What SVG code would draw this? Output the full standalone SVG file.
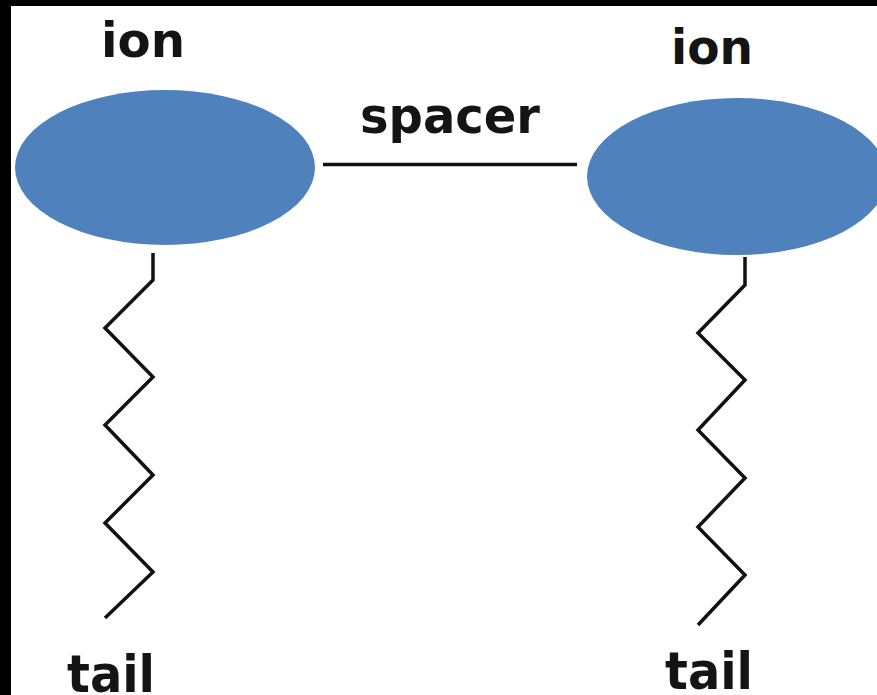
<svg xmlns="http://www.w3.org/2000/svg" width="877" height="695" viewBox="0 0 877 695">
  <style>
    .label { font-family: "DejaVu Sans", "Liberation Sans", Arial, sans-serif; font-weight: bold; fill: #141414; }
    .ion { fill: #4f81bd; }
    .bond { fill: none; stroke: #111; stroke-width: 3.5; stroke-linejoin: miter; stroke-linecap: butt; }
  </style>
  <!-- dark frame on the left and top edges -->
  <rect x="0" y="0" width="877" height="695" fill="#000"/>
  <rect x="11" y="6" width="866" height="689" fill="#fff"/>

  <g id="ion-left">
    <ellipse class="ion" cx="165" cy="167.5" rx="150" ry="77.5"/>
    <text class="label" x="101" y="57" font-size="48" textLength="84" lengthAdjust="spacingAndGlyphs">ion</text>
  </g>

  <g id="ion-right">
    <ellipse class="ion" cx="737" cy="176.5" rx="150" ry="78.5"/>
    <text class="label" x="671" y="64" font-size="48" textLength="82" lengthAdjust="spacingAndGlyphs">ion</text>
  </g>

  <g id="tail-left">
    <text class="label" x="67" y="692" font-size="52" textLength="88" lengthAdjust="spacingAndGlyphs">tail</text>
  </g>

  <g id="tail-right">
    <text class="label" x="665" y="689" font-size="52" textLength="88" lengthAdjust="spacingAndGlyphs">tail</text>
  </g>

  <g id="connectors">
    <!-- spacer between the two head groups -->
    <line class="bond" x1="323" y1="164.5" x2="577" y2="164.5"/>
    <text class="label" x="360" y="133" font-size="50" textLength="180" lengthAdjust="spacingAndGlyphs">spacer</text>
    <!-- hydrocarbon tails -->
    <polyline class="bond" points="153,253 153,280 105,328 153,377 105,425 153,475 105,523 153,572 105,618"/>
    <polyline class="bond" points="745,257 745,285 698,333 745,380 698,430 745,478 698,527 745,575 698,625"/>
  </g>
</svg>
